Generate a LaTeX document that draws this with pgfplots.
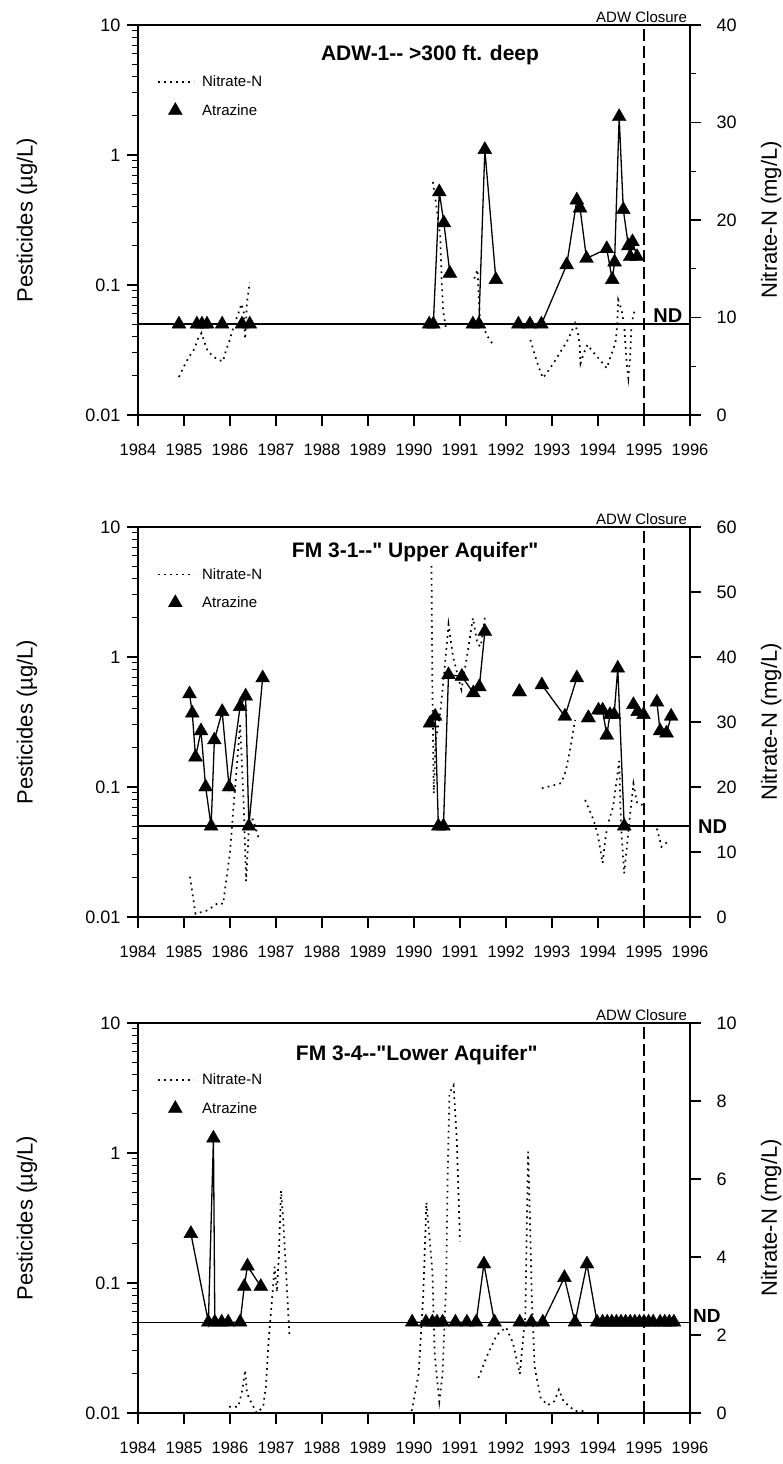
\documentclass[border=0pt]{standalone}
\usepackage{pgfplots}
\pgfplotsset{compat=1.18}
\usepackage{fontspec}
\setmainfont{Liberation Sans}
\newcommand{\fs}[1]{\fontsize{#1}{#1}\selectfont}
\pgfplotsset{
  myBase/.style={scale only axis, width=552pt, height=390pt, xmin=1984, xmax=1996, clip=false,
    /pgf/number format/assume math mode=true,
    tick align=outside, major tick length=11pt, minor tick length=6pt,
    major tick style={black, line width=1.3pt}, minor tick style={black, line width=1pt},
    axis line style={line width=1.5pt},
    tick label style={font=\fs{18}},
    unbounded coords=jump,
  },
  myLeft/.style={myBase, ymin=0.01, ymax=10,
    ytick={0.01,0.1,1,10}, yticklabels={0.01,0.1,1,10},
    minor ytick={0.02,0.03,0.04,0.05,0.06,0.07,0.08,0.09,0.2,0.3,0.4,0.5,0.6,0.7,0.8,0.9,2,3,4,5,6,7,8,9},
    xtick={1984,1985,1986,1987,1988,1989,1990,1991,1992,1993,1994,1995,1996},
    xticklabels={1984,1985,1986,1987,1988,1989,1990,1991,1992,1993,1994,1995,1996},
    xtick pos=bottom, ytick pos=left,
    xticklabel style={font=\fs{16.5}, yshift=-14pt},
    yticklabel style={xshift=-3pt},
    ylabel={Pesticides (µg/L)},
    ylabel style={at={(axis description cs:-0.201,0.5)}, anchor=center, font=\fs{22}},
    legend style={at={(axis description cs:0.035,0.875)}, anchor=north west, draw=none, fill=none,
      font=\fs{15}, row sep=12pt, inner sep=0pt, /tikz/every odd column/.append style={column sep=5pt}},
    legend cell align=left,
  },
  myRight/.style={myBase, axis x line=none, axis y line*=right,
    yticklabel style={xshift=12pt},
    ylabel={Nitrate-N (mg/L)},
    ylabel style={at={(axis description cs:1.147,0.5)}, anchor=center, font=\fs{22}}},
  myAtz/.style={black, line width=1.3pt, mark=triangle*, mark size=8pt, mark options={solid, line width=0.4pt}},
  myNit/.style={black, line width=1.7pt, dash pattern=on 1.7pt off 4.3pt},
  myAdw/.style={black, line width=1.4pt, dash pattern=on 12pt off 5pt},
}
\newcommand{\legendentries}{%
  \addlegendimage{legend image code/.code={\draw[black, line width=1.6pt, dash pattern=on 1.7pt off 4.3pt] (0pt,0pt) -- (36pt,0pt);}}
  \addlegendentry{Nitrate-N}
  \addlegendimage{legend image code/.code={\draw[black, fill=black, mark=triangle*, mark size=8pt] plot coordinates {(17pt,0pt)};}}
  \addlegendentry{Atrazine}
}
\begin{document}
\begin{tikzpicture}
\path[use as bounding box] (0pt,0pt) rectangle (783pt,-1464pt);

% ================= Panel 1 =================
\begin{semilogyaxis}[myLeft, at={(138pt,-25pt)}, anchor=north west]
\legendentries
\addplot[black, line width=1.7pt, forget plot] coordinates {(1984,0.05)(1996,0.05)};
\addplot[myAdw, forget plot] coordinates {(1995,0.01)(1995,10)};
\addplot[myAtz, forget plot] coordinates {(1984.89,0.05)(1985.28,0.05)(1985.39,0.05)(1985.50,0.05)(1985.83,0.05)(1986.26,0.05)(1986.43,0.05)
 (1988,nan)
 (1990.33,0.05)(1990.42,0.05)(1990.55,0.52)(1990.65,0.30)(1990.78,0.123)
 (1991,nan)
 (1991.28,0.05)(1991.41,0.05)(1991.54,1.1)(1991.78,0.11)
 (1992,nan)
 (1992.27,0.05)(1992.52,0.05)(1992.77,0.05)(1993.32,0.143)(1993.54,0.45)(1993.61,0.39)(1993.75,0.16)(1994.19,0.19)(1994.31,0.11)(1994.36,0.15)(1994.46,1.97)(1994.55,0.38)(1994.66,0.20)(1994.70,0.165)(1994.75,0.215)(1994.85,0.165)};
\node[anchor=base, font=\bfseries\fs{21}] at (rel axis cs:0.529,0.910) {ADW-1-{}- >300 ft. deep};
\node[anchor=south east, font=\fs{15}, inner sep=0pt] at (rel axis cs:0.995,1) [yshift=2pt] {ADW Closure};
\node[anchor=south, font=\bfseries\fs{20}, inner sep=1pt] at (axis cs:1995.52,0.05) {ND};
\end{semilogyaxis}
\begin{axis}[myRight, at={(138pt,-25pt)}, anchor=north west, ymin=0, ymax=40, ytick={0,10,20,30,40}, minor ytick={5,15,25,35}]
\addplot[myNit] coordinates {(1984.89,3.9)(1984.99,4.9)(1985.1,5.9)(1985.23,6.8)(1985.30,7.8)(1985.38,8.4)(1985.45,7.4)(1985.52,6.5)(1985.72,5.7)(1985.85,5.5)(1985.91,6.6)(1985.98,7.5)(1986.10,9.4)(1986.18,10.4)(1986.25,11.4)(1986.30,10.5)(1986.33,7.8)(1986.37,11.6)(1986.43,13.6)
 (1988,nan)
 (1990.41,23.9)(1990.5,21)(1990.57,18.3)(1990.6,14)(1990.63,10.8)(1990.7,8.7)
 (1991,nan)
 (1991.31,14)(1991.38,14.9)(1991.43,10)(1991.58,8.2)(1991.72,7.2)
 (1992,nan)
 (1992.53,7.7)(1992.65,5.8)(1992.72,4.8)(1992.80,3.8)(1992.93,4.6)(1993.07,5.6)(1993.2,6.6)(1993.32,7.5)(1993.41,8.4)(1993.5,9.4)(1993.57,8.2)(1993.6,7.2)(1993.62,5.3)(1993.68,6.2)(1993.77,7.2)(1993.92,6.3)(1994.07,5.5)(1994.19,4.8)(1994.26,5.8)(1994.33,6.7)(1994.39,7.7)(1994.42,9.4)(1994.44,11.8)(1994.51,10.8)(1994.57,9.1)(1994.6,7.0)(1994.63,5.0)(1994.66,3.8)(1994.7,6.0)(1994.73,9.4)(1994.80,10.8)};
\end{axis}

% ================= Panel 2 =================
\begin{semilogyaxis}[myLeft, at={(138pt,-527pt)}, anchor=north west, legend style={at={(axis description cs:0.035,0.9)}}]
\legendentries
\addplot[black, line width=1.7pt, forget plot] coordinates {(1984,0.05)(1996,0.05)};
\addplot[myAdw, forget plot] coordinates {(1995,0.01)(1995,10)};
\addplot[myAtz, forget plot] coordinates {(1985.12,0.52)(1985.18,0.37)(1985.25,0.17)(1985.37,0.27)(1985.47,0.10)(1985.59,0.05)(1985.66,0.23)(1985.83,0.38)(1985.98,0.10)(1986.22,0.415)(1986.34,0.50)(1986.41,0.05)(1986.71,0.69)
 (1988,nan)
 (1990.35,0.31)(1990.46,0.35)(1990.53,0.05)(1990.64,0.05)(1990.75,0.73)(1991.04,0.71)(1991.29,0.53)(1991.42,0.59)(1991.54,1.57)
 (1992,nan)
 (1992.29,0.54)(1992.291,0.54)
 (1992.5,nan)
 (1992.78,0.61)(1993.28,0.35)(1993.54,0.69)
 (1993.7,nan)
 (1993.79,0.34)(1993.791,0.34)
 (1993.9,nan)
 (1994.01,0.39)(1994.10,0.39)(1994.19,0.25)(1994.26,0.36)(1994.35,0.36)(1994.43,0.82)(1994.57,0.05)
 (1994.7,nan)
 (1994.77,0.43)(1994.86,0.38)(1994.99,0.36)
 (1995.1,nan)
 (1995.28,0.45)(1995.35,0.27)(1995.49,0.26)(1995.59,0.35)};
\node[anchor=base, font=\bfseries\fs{21}] at (rel axis cs:0.502,0.923) {FM 3-1-{}-\textquotedbl{} Upper Aquifer\textquotedbl};
\node[anchor=south east, font=\fs{15}, inner sep=0pt] at (rel axis cs:0.995,1) [yshift=2pt] {ADW Closure};
\node[anchor=west, font=\bfseries\fs{20}, inner sep=0pt] at (rel axis cs:1,0.233) [xshift=8pt] {ND};
\end{semilogyaxis}
\begin{axis}[myRight, at={(138pt,-527pt)}, anchor=north west, ymin=0, ymax=60, ytick={0,10,20,30,40,50,60}]
\addplot[myNit] coordinates {(1985.13,6.2)(1985.25,0.5)(1985.5,1.0)(1985.75,2.2)(1985.85,2.0)(1986.0,10)(1986.1,19)(1986.22,29.5)(1986.3,17)(1986.35,5.5)(1986.42,15)(1986.5,15)(1986.63,12)
 (1988,nan)
 (1990.38,54)(1990.40,35)(1990.43,19)(1990.47,27)(1990.57,31.4)(1990.67,38.5)(1990.75,45)(1990.85,40)(1991.03,35)(1991.15,40)(1991.28,46)(1991.38,42)(1991.45,41.6)(1991.55,46.5)
 (1992,nan)
 (1992.78,19.8)(1993.0,20.2)(1993.2,20.6)(1993.3,22.5)(1993.4,26)(1993.5,30.3)
 (1993.6,nan)
 (1993.72,18)(1993.9,15)(1994.0,12.5)(1994.1,8.3)(1994.17,12.6)(1994.25,15.2)(1994.33,17)(1994.46,24)(1994.5,14)(1994.57,6.7)(1994.7,16)(1994.77,20.5)(1994.85,17.5)(1994.99,17.2)
 (1995.1,nan)
 (1995.28,13.6)(1995.38,10.8)(1995.5,11.5)(1995.57,11.8)};
\end{axis}

% ================= Panel 3 =================
\begin{semilogyaxis}[myLeft, at={(138pt,-1023pt)}, anchor=north west]
\legendentries
\addplot[black, line width=1pt, forget plot] coordinates {(1984,0.05)(1996,0.05)};
\addplot[myAdw, forget plot] coordinates {(1995,0.01)(1995,10)};
\addplot[myAtz, forget plot] coordinates {(1985.15,0.24)(1985.53,0.05)(1985.64,1.3)(1985.67,0.05)(1985.82,0.05)(1985.96,0.05)(1986.22,0.05)(1986.31,0.094)(1986.38,0.135)(1986.67,0.094)
 (1988,nan)
 (1989.96,0.05)(1990.26,0.05)(1990.4,0.05)(1990.5,0.05)(1990.62,0.05)(1990.9,0.05)(1991.15,0.05)(1991.35,0.05)(1991.52,0.14)(1991.75,0.05)(1992.3,0.05)(1992.55,0.05)(1992.8,0.05)(1993.27,0.11)(1993.5,0.05)(1993.76,0.14)(1993.98,0.05)(1994.1,0.05)(1994.2,0.05)(1994.3,0.05)(1994.4,0.05)(1994.5,0.05)(1994.6,0.05)(1994.7,0.05)(1994.8,0.05)(1994.9,0.05)(1995.0,0.05)(1995.1,0.05)(1995.2,0.05)(1995.35,0.05)(1995.45,0.05)(1995.55,0.05)(1995.65,0.05)};
\node[anchor=base, font=\bfseries\fs{21}] at (rel axis cs:0.505,0.905) {FM 3-4-{}-\textquotedbl Lower Aquifer\textquotedbl};
\node[anchor=south east, font=\fs{15}, inner sep=0pt] at (rel axis cs:0.995,1) [yshift=2pt] {ADW Closure};
\node[anchor=west, font=\bfseries\fs{19}, inner sep=0pt] at (rel axis cs:1,0.233) [xshift=3pt, yshift=6pt] {ND};
\end{semilogyaxis}
\begin{axis}[myRight, at={(138pt,-1023pt)}, anchor=north west, ymin=0, ymax=10, ytick={0,2,4,6,8,10}]
\addplot[myNit] coordinates {(1985.98,0.16)(1986.18,0.16)(1986.27,0.6)(1986.33,1.1)(1986.37,0.5)(1986.45,0.3)(1986.58,0.0)(1986.72,0.16)(1986.78,0.67)(1986.83,1.7)(1986.87,2.3)(1986.92,3.0)(1986.97,3.75)(1987.02,3.1)(1987.06,4.0)(1987.11,5.7)(1987.16,4.9)(1987.2,4.0)(1987.24,3.15)(1987.29,2.0)
 (1988,nan)
 (1989.95,0.05)(1990.1,1.0)(1990.2,3.0)(1990.27,5.4)(1990.33,4.6)(1990.4,3.6)(1990.45,1.5)(1990.55,0.3)(1990.62,1.0)(1990.7,3.3)(1990.73,6.0)(1990.77,8.2)(1990.86,8.4)(1990.93,7.0)(1991.0,4.4)
 (1991.2,nan)
 (1991.4,0.9)(1991.6,1.5)(1991.8,2.0)(1992.0,2.2)(1992.15,1.8)(1992.3,1.0)(1992.42,2.5)(1992.48,6.7)(1992.52,5.0)(1992.56,3.0)(1992.62,1.2)(1992.75,0.4)(1992.9,0.2)(1993.05,0.3)(1993.15,0.6)(1993.25,0.3)(1993.35,0.2)(1993.5,0.05)(1993.7,0.05)};
\end{axis}
\end{tikzpicture}
\end{document}
